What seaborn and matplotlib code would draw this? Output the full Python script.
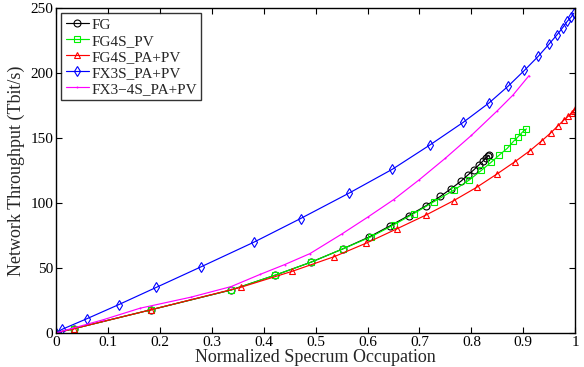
import numpy as np
import pandas as pd
import matplotlib
matplotlib.use("Agg")
import matplotlib.pyplot as plt
import seaborn as sns

# datos
fg_x = [0, 0.035, 0.182, 0.337, 0.422, 0.491, 0.552, 0.603, 0.643, 0.679, 0.712, 0.740,
        0.761, 0.780, 0.794, 0.805, 0.815, 0.823, 0.828, 0.832, 0.834]
fg_y = [0, 3.3, 17.7, 33, 44.4, 54.4, 64.6, 73.8, 82.3, 90.2, 97.7, 105,
        111, 116.8, 121.8, 125.6, 129.5, 132.6, 134.4, 136, 136.7]

pv_x = [0, 0.035, 0.182, 0.337, 0.422, 0.491, 0.552, 0.606, 0.651, 0.689, 0.728, 0.766,
        0.796, 0.819, 0.838, 0.854, 0.869, 0.881, 0.890, 0.898, 0.906]
pv_y = [0, 3.3, 17.7, 33, 44.4, 54.4, 64.6, 73.8, 83.3, 91.8, 101, 109.8,
        117.7, 125, 131.3, 137, 142, 147.4, 151, 154.4, 157]

pa_x = [0, 0.035, 0.182, 0.356, 0.455, 0.536, 0.597, 0.656, 0.713, 0.766, 0.810, 0.850,
        0.884, 0.913, 0.936, 0.953, 0.967, 0.978, 0.987, 0.993, 0.997, 1.0]
pa_y = [0, 3.3, 17.7, 35.1, 47.4, 58.7, 69, 80, 90.8, 101.8, 112, 122.5,
        131.8, 140.3, 148, 154, 159.5, 163.8, 166.9, 169.5, 171, 172.3]

fx_x = [0, 0.012, 0.06, 0.121, 0.193, 0.279, 0.381, 0.471, 0.564, 0.648, 0.72, 0.784,
        0.834, 0.871, 0.902, 0.929, 0.95, 0.965, 0.976, 0.985, 0.992, 0.997]
fx_y = [0, 2.8, 11, 21.8, 35, 50.8, 69.8, 88, 107.5, 126, 144.6, 162,
        177, 190, 202, 213, 222.5, 229.5, 235, 240, 243, 246]

fx34_x = [0, 0.09, 0.162, 0.26, 0.337, 0.393, 0.44, 0.489, 0.55, 0.6, 0.65, 0.7,
          0.75, 0.8, 0.85, 0.88, 0.911]
fx34_y = [0, 10, 19, 27.5, 35.6, 45, 52.5, 61, 76, 89, 102.5, 118,
          134.5, 152, 171, 183, 198]

series = [
    ("FG", fg_x, fg_y, "black", "o"),
    ("FG4S_PV", pv_x, pv_y, "#00f000", "s"),
    ("FG4S_PA+PV", pa_x, pa_y, "red", "^"),
    ("FX3S_PA+PV", fx_x, fx_y, "blue", "d"),
    ("FX3\u22124S_PA+PV", fx34_x, fx34_y, "magenta", "."),
]

sns.set_style("ticks")
plt.rcParams['font.family'] = ['Liberation Serif', 'DejaVu Serif']

fig = plt.figure(figsize=(5.84, 3.67), dpi=100)
ax = fig.add_axes([0.096, 0.093, 0.889, 0.885])

for nombre, xs, ys, color, m in series:
    df = pd.DataFrame({"x": xs, "y": ys})
    ms = 1.2 if m == "." else 5
    sns.lineplot(data=df, x="x", y="y", ax=ax, color=color, marker=m,
                 markersize=ms, markerfacecolor="none", markeredgecolor=color,
                 markeredgewidth=0.8, linewidth=0.85, label=nombre)

ax.set_xlim(0, 1)
ax.set_ylim(0, 250)
ax.set_xticks(np.arange(0, 1.01, 0.1))
ax.set_xticklabels(["0", "0.1", "0.2", "0.3", "0.4", "0.5", "0.6", "0.7", "0.8", "0.9", "1"])
ax.set_yticks(np.arange(0, 251, 50))
ax.tick_params(direction="in", top=True, right=True, labelsize=11, length=4, width=0.8,
               pad=2, colors="black")
for s in ax.spines.values():
    s.set_visible(True)
    s.set_linewidth(1.0)
    s.set_color("black")
ax.set_xlabel("Normalized Specrum Occupation", fontsize=13, labelpad=0)
ax.set_ylabel("Network Throughput (Tbit/s)", fontsize=13, labelpad=4)

leg = ax.legend(loc="upper left", fontsize=11, frameon=True, fancybox=False,
                edgecolor="black", borderpad=0.3, labelspacing=0.15,
                handlelength=1.5, handletextpad=0.15, borderaxespad=0.35)
leg.get_frame().set_linewidth(1.0)

fig.savefig("out.png", dpi=100)
